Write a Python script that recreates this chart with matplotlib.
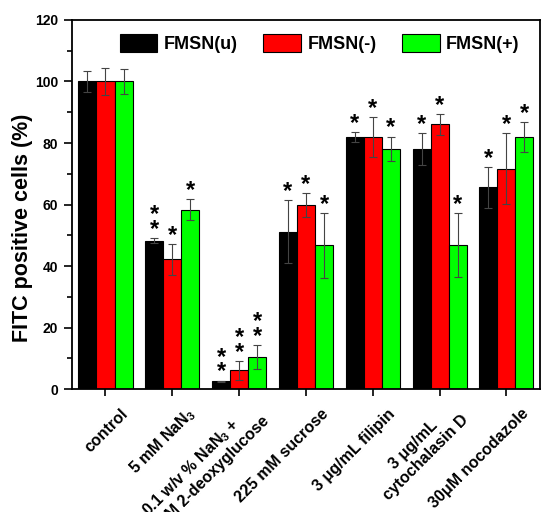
"""Uptake-inhibitor bar chart: FITC positive cells for three FMSN types."""
import matplotlib
matplotlib.use("Agg")
import matplotlib.pyplot as plt
import matplotlib.transforms as mtransforms
import numpy as np
from matplotlib.ticker import MultipleLocator

plt.rcParams["font.family"] = ["Liberation Sans", "DejaVu Sans"]
plt.rcParams["font.weight"] = "bold"
plt.rcParams["mathtext.fontset"] = "custom"
plt.rcParams["mathtext.rm"] = "Liberation Sans"
plt.rcParams["mathtext.it"] = "Liberation Sans:italic"
plt.rcParams["mathtext.bf"] = "Liberation Sans:bold"

# treatments on the x axis
conditions = [
    "control",
    "5 mM NaN$_3$",
    "0.1 w/v % NaN$_3$ +\n50 mM 2-deoxyglucose",
    "225 mM sucrose",
    "3 \u03bcg/mL filipin",
    "3 \u03bcg/mL\ncytochalasin D",
    "30\u03bcM nocodazole",
]

series_names = ["FMSN(u)", "FMSN(-)", "FMSN(+)"]

# FITC positive cells (%) and error bars
fmsn_u = [100, 48.3, 2.5, 51.2, 82.0, 78.1, 65.6]
fmsn_u_err = [3.3, 0.8, 0.3, 10.3, 1.6, 5.2, 6.7]
fmsn_minus = [100, 42.2, 6.1, 59.9, 82.0, 86.1, 71.7]
fmsn_minus_err = [4.4, 5.0, 3.0, 3.8, 6.4, 3.4, 11.6]
fmsn_plus = [100, 58.3, 10.4, 46.7, 78.1, 46.8, 82.0]
fmsn_plus_err = [4.1, 3.4, 4.0, 10.5, 4.0, 10.4, 4.8]

# number of significance stars above each bar
stars_u = [0, 2, 2, 1, 1, 1, 1]
stars_minus = [0, 1, 2, 1, 1, 1, 1]
stars_plus = [0, 1, 2, 1, 1, 1, 1]

colors = ["#000000", "#ff0000", "#00ff00"]

fig = plt.figure(figsize=(5.42, 5.12), dpi=100)
ax = fig.add_axes([0.133, 0.240, 0.863, 0.721])

x = np.arange(len(conditions))
width = 0.27
series = [
    (fmsn_u, fmsn_u_err, stars_u),
    (fmsn_minus, fmsn_minus_err, stars_minus),
    (fmsn_plus, fmsn_plus_err, stars_plus),
]

for i, ((vals, errs, stars), name, color) in enumerate(zip(series, series_names, colors)):
    pos = x + (i - 1) * width
    ax.bar(pos, vals, width, color=color, edgecolor="black", linewidth=0.8,
           label=name, zorder=2)
    ax.errorbar(pos, vals, yerr=errs, fmt="none", ecolor="#444444",
                elinewidth=0.8, capsize=3, capthick=0.8, zorder=3)
    # significance stars stacked above the error bar
    for xp, v, e, n in zip(pos, vals, errs, stars):
        for k in range(n):
            ax.annotate("*", (xp, v + e), xytext=(0, 10.5 * k + 1.5),
                        textcoords="offset points", ha="center",
                        va="baseline", fontsize=17, fontweight="bold")

ax.set_xlim(-0.5, len(conditions) - 0.5)
ax.set_ylim(0, 120)
ax.yaxis.set_major_locator(MultipleLocator(20))
ax.yaxis.set_minor_locator(MultipleLocator(10))
ax.set_ylabel("FITC positive cells (%)", fontsize=15.5, fontweight="bold")
ax.yaxis.set_label_coords(-0.083, 0.436)

ax.tick_params(axis="x", which="major", direction="out", length=5, width=1.2, pad=11)
ax.tick_params(axis="y", which="major", direction="out", length=6, width=1.2,
               labelsize=10, pad=4)
ax.tick_params(axis="y", which="minor", direction="out", length=3.5, width=1.2)
for lbl in ax.get_yticklabels():
    lbl.set_fontweight("bold")
for spine in ax.spines.values():
    spine.set_linewidth(1.3)

ax.set_xticks(x)
ax.set_xticklabels(conditions, rotation=45, ha="right", va="center",
                   rotation_mode="anchor", multialignment="center",
                   fontsize=11.5, fontweight="bold")
# shift the rotated labels right so their ends sit past the ticks, as in the original
shift = mtransforms.ScaledTranslation(0.20, 0, fig.dpi_scale_trans)
for lbl in ax.get_xticklabels():
    lbl.set_transform(lbl.get_transform() + shift)

ax.legend(loc="center", bbox_to_anchor=(0.529, 0.936), ncol=3, frameon=False,
          fontsize=13, handlelength=2.1, handleheight=1.1, handletextpad=0.35,
          columnspacing=1.4, borderaxespad=0)

fig.savefig("out.png", dpi=100)
